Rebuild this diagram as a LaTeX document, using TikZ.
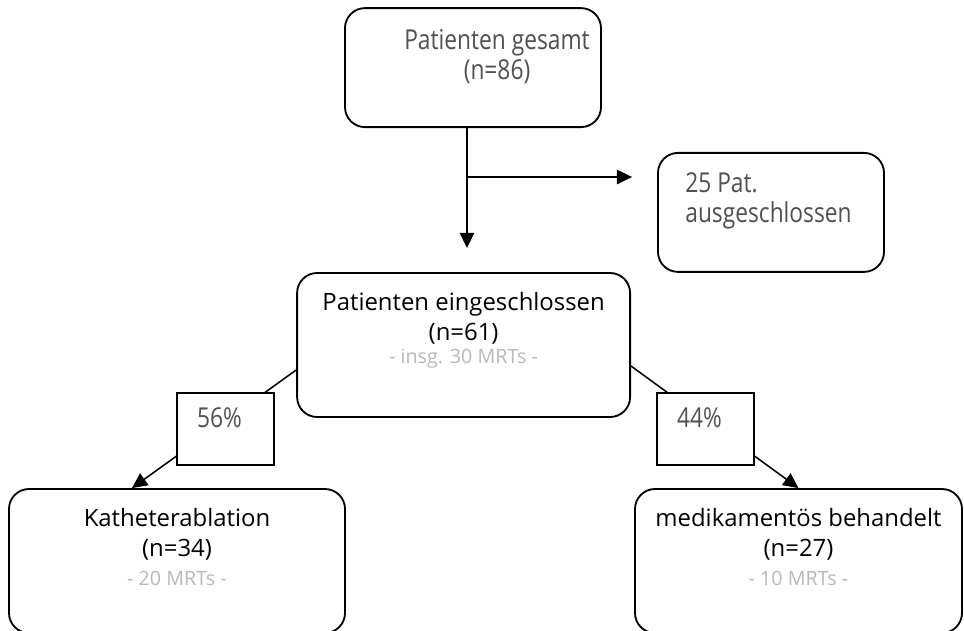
\documentclass[tikz,border=0pt]{standalone}
\usepackage{fontspec}
\setmainfont{Open Sans}
\newfontfamily\thinfont{Open Sans}[FakeStretch=0.83]
\usetikzlibrary{positioning,arrows.meta,calc}
\definecolor{ptDark}{RGB}{80,80,80}
\definecolor{ptGray}{RGB}{185,185,185}
\newcommand{\mrts}[1]{{\color{ptGray}\fontsize{14}{16}\selectfont #1}}
\tikzset{
    base/.style={font=\fontsize{17}{21}\selectfont, align=center, inner sep=0pt},
    light/.style={base, text=ptDark, font=\thinfont\fontsize{19.5}{19.5}\selectfont},
    stage/.style={rectangle, rounded corners=5mm, draw=black, line width=1.3pt, fill=white},
    share/.style={rectangle, draw=black, line width=1pt, fill=white,
                  minimum width=2.425cm, minimum height=1.8cm},
    flow/.style={-{Triangle[length=3.8mm,width=3.6mm]}, line width=1.1pt, color=black}
}

\begin{document}
\begin{tikzpicture}
  \useasboundingbox (0,0) rectangle (24.1,-15.75);
  \clip (0,0) rectangle (24.1,-15.75);

  % Boxes
  \node[stage, minimum width=6.4cm, minimum height=2.975cm] (gesamt) at (11.825,-1.69) {};
  \node[stage, minimum width=5.65cm, minimum height=2.975cm] (aus) at (19.275,-5.31) {};
  \node[stage, minimum width=8.325cm, minimum height=3.6cm] (einge) at (11.59,-8.625) {};
  \node[stage, minimum width=8.4cm, minimum height=3.6cm] (kath) at (4.425,-14.025) {};
  \node[stage, minimum width=8.175cm, minimum height=3.6cm] (med) at (19.9625,-14.025) {};

  % Texts
  \node[light, below=0.55cm of gesamt.north, xshift=6mm, font=\thinfont\fontsize{19.5}{21}\selectfont] (gesamtT) {Patienten gesamt\\(n=86)};
  \node[light, align=left, anchor=north west, font=\thinfont\fontsize{19.5}{21.5}\selectfont]
    (ausT) at ($(aus.north west)+(0.7,-0.5)$) {25 Pat.\\ausgeschlossen};
  \node[base, below=0.5cm of einge.north] (eingeT)
    {Patienten eingeschlossen\\(n=61)\\[-4pt]\mrts{- insg. 30 MRTs -}};
  \node[base, below=0.5cm of kath.north] (kathT)
    {Katheterablation\\(n=34)\\\mrts{- 20 MRTs -}};
  \node[base, below=0.5cm of med.north] (medT)
    {medikamentös behandelt\\(n=27)\\\mrts{- 10 MRTs -}};

  % Connectors
  \coordinate (tip) at (11.675,-6.2);
  \coordinate (split) at (11.675,-4.425);
  \coordinate (ausTip) at ($(aus.west)+(-0.625,0.885)$);
  \draw[flow] (gesamt.south -| tip) -- (tip);
  \draw[flow] (split) -- (ausTip);
  \draw[flow] ($(einge.west)+(0,-0.625)$) -- ($(kath.north)+(-1.125,0)$);
  \draw[flow] ($(einge.east)+(0,-0.525)$) -- (med.north);

  % Shares
  \node[share] (p56) at (5.6375,-10.725) {};
  \node[share] (p44) at (17.6375,-10.725) {};
  \node[light, below=0.38cm of p56.north, xshift=-1.5mm] (p56T) {56\%};
  \node[light, below=0.38cm of p44.north, xshift=-1.5mm] (p44T) {44\%};
\end{tikzpicture}
\end{document}
